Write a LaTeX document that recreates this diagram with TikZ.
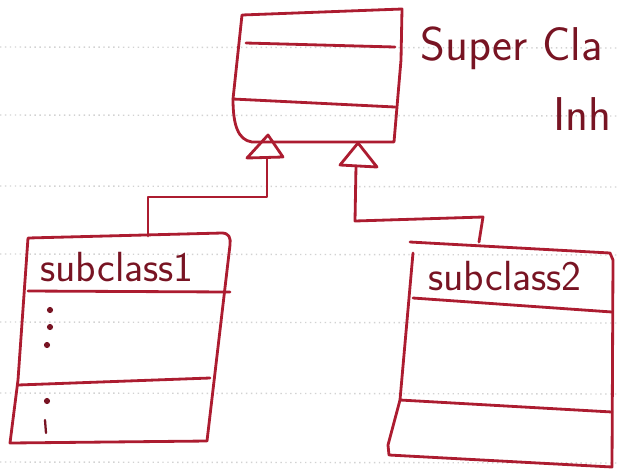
\documentclass[tikz,border=0pt]{standalone}
\usepackage{xcolor}
\usepackage{tikz}
\definecolor{ink}{RGB}{172,28,48}
\definecolor{inktext}{RGB}{120,20,35}

\begin{document}
\begin{tikzpicture}[x=0.02cm,y=-0.02cm,
    pen/.style={draw=ink,line width=1.6pt,line join=round,line cap=round},
    paperline/.style={draw=gray!35,dotted,line width=0.8pt},
    hand/.style={text=inktext,font=\sffamily\fontsize{24}{28}\selectfont,inner sep=0pt},
    dot/.style={circle,fill=inktext,inner sep=0pt,minimum size=3.5pt}]
    \useasboundingbox (0,0) rectangle (619,468);
    \clip (0,0) rectangle (619,468);
    % paper lines
    \foreach \y in {47,115,186,254,322,393,462}
        \draw[paperline] (0,\y) -- (619,\y+1);
    % super class
    \draw[pen] (242,15) -- (402,9) -- (401,60) -- (394,142) -- (252,142)
        .. controls (238,140) and (233,125) .. (233,99) -- cycle;
    \draw[pen] (246,43) -- (395,47);
    \draw[pen] (233,99) -- (395,107);
    \coordinate (sup1) at (268,135);
    \coordinate (sup2) at (358,143);
    % inheritance triangles
    \draw[pen] (sup1) -- (283,157) -- (247,158) -- cycle;
    \draw[pen] (sup2) -- (377,167) -- (340,165) -- cycle;
    \coordinate (tri1) at (267,158);
    \coordinate (tri2) at (356,166);
    % subclass1
    \draw[pen] (28,238) -- (222,233) .. controls (229,233) and (231,238) .. (230,245)
        -- (207,441) -- (10,443) -- (18,380) -- cycle;
    \draw[pen] (28,291) -- (230,292);
    \draw[pen] (18,385) -- (210,378);
    \node[hand] (sub1) at (117,267) {subclass1};
    \coordinate (top1) at (148,236);
    \node[dot] (d1) at (50,310) {};
    \node[dot] (d2) at (50,327) {};
    \node[dot] (d3) at (47,345) {};
    \node[dot] (d4) at (47,401) {};
    \draw[draw=inktext,line width=1.3pt,line cap=round] (45,420) -- (46,433);
    % subclass2
    \draw[pen] (410,242) -- (610,253) -- (613,260) -- (612,467) -- (389,455)
        -- (388,445) -- (400,400) -- (413,253);
    \draw[pen] (413,298) -- (612,312);
    \draw[pen] (400,400) -- (612,412);
    \node[hand] (sub2) at (505,276) {subclass2};
    \coordinate (top2) at (479,242);
    % connectors
    \draw[pen] (tri1) -- (267,197) -- (148,197) -- (top1);
    \draw[pen] (tri2) -- (355,221) -- (483,217) -- (top2);
    % note
    \node[hand,anchor=base west,font=\sffamily\fontsize{27}{30}\selectfont] (note1) at (420,60) {Super Cla};
    \node[hand,anchor=base west,font=\sffamily\fontsize{27}{30}\selectfont] (note2) at (553,130) {Inh};
\end{tikzpicture}
\end{document}
